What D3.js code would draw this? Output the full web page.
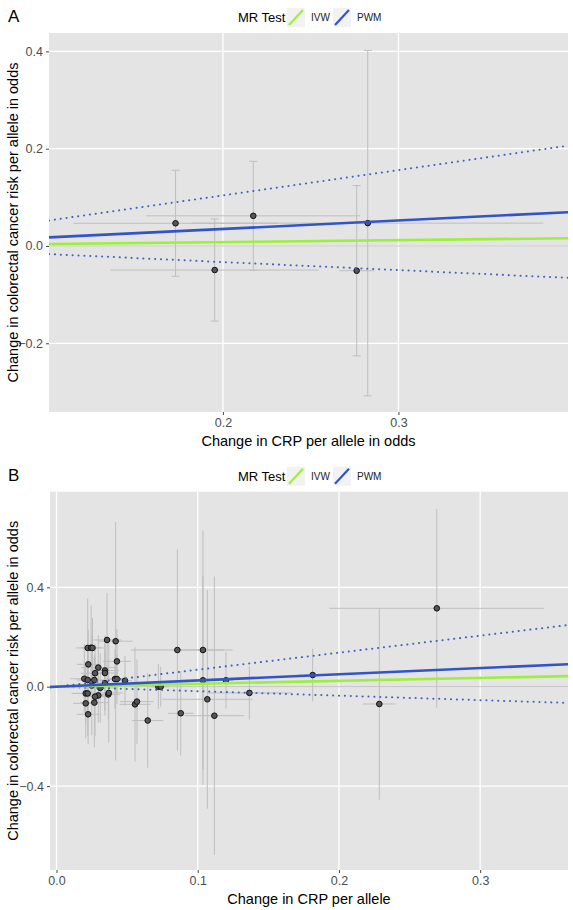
<!DOCTYPE html>
<html><head><meta charset="utf-8">
<script src="https://cdn.jsdelivr.net/npm/d3@7"></script>
<style>body{margin:0;background:#fff;font-family:"Liberation Sans",Arial,sans-serif;}</style>
</head><body><svg id="c" width="573" height="910"></svg>
<script>
// ---------- data ----------
const methods = ["IVW", "PWM"];
const methodColors = ["#9cf03a", "#3354c8"];

// Panel A: CRP per allele in odds
const aBx   = [0.173, 0.1953, 0.2173, 0.2762, 0.2825];
const aBy   = [0.0467, -0.0494, 0.062, -0.0508, 0.047];
const aBxSe = [0.0583, 0.0594, 0.061, 0.010, 0.100];
const aBySe = [0.109, 0.105, 0.112, 0.175, 0.355];
const aSlopes = [0.04, 0.175];      // IVW, PWM
const aCI = [0.52, -0.165];         // PWM CI upper, lower
const aXTicks = [0.2, 0.3];
const aYTicks = [-0.2, 0.0, 0.2, 0.4];

// Panel B: CRP per allele
const bBx = [0.0221,0.0245,0.0255,0.0225,0.0296,0.0343,0.0343,0.0273,0.0197,0.0221,0.0268,0.0414,0.0428,0.0485,0.0343,
             0.0207,0.0221,0.0367,0.0296,0.0273,0.0207,0.0268,0.0224,0.0358,0.0419,0.0428,0.025,0.031,0.037,
             0.0556,0.057,0.0646,0.0721,0.0738,0.0856,0.088,0.1037,0.1037,0.1068,0.1118,0.12,0.1366,0.1814,0.2286,0.2693];
const bBy = [0.156,0.157,0.156,0.090,0.077,0.065,0.055,0.054,0.032,0.027,0.027,0.031,0.031,0.024,0.014,
             -0.027,-0.027,-0.031,-0.035,-0.040,-0.067,-0.064,-0.111,0.188,0.183,0.102,0.005,-0.005,-0.025,
             -0.071,-0.060,-0.136,0.0,0.0,0.1477,-0.107,0.1477,0.0257,-0.0507,-0.1167,0.0257,-0.025,0.047,-0.0696,0.3155];
const bBxSe = [0.008,0.007,0.008,0.008,0.012,0.010,0.009,0.010,0.010,0.008,0.007,0.006,0.006,0.005,0.010,
               0.010,0.008,0.008,0.009,0.008,0.009,0.010,0.008,0.010,0.012,0.010,0.008,0.012,0.010,
               0.011,0.012,0.011,0.006,0.006,0.033,0.009,0.021,0.015,0.032,0.021,0.005,0.030,0.010,0.0115,0.076];
const bBySe = [0.20,0.17,0.12,0.14,0.13,0.11,0.15,0.12,0.14,0.16,0.10,0.12,0.10,0.10,0.13,
               0.12,0.17,0.10,0.11,0.16,0.14,0.18,0.12,0.19,0.48,0.13,0.20,0.14,0.20,
               0.23,0.17,0.19,0.09,0.08,0.405,0.17,0.48,0.42,0.44,0.56,0.114,0.107,0.106,0.385,0.40];
const bSlopes = [0.118, 0.25];
const bCI = [0.685, -0.18];
const bXTicks = [0.0, 0.1, 0.2, 0.3];
const bYTicks = [-0.4, 0.0, 0.4];

const yTitle = "Change in colorectal cancer risk per allele in odds";

// ---------- drawing ----------
const svg = d3.select("#c");
const fmt = d3.format(".1f");

function panel(o) {
  const {left, right, top, bottom, xDom, yDom, bx, by, bxse, byse, slopes, ci, xTicks, yTicks, label, xTitle, caps} = o;
  const x = d3.scaleLinear().domain(xDom).range([left, right]);
  const y = d3.scaleLinear().domain(yDom).range([bottom, top]);
  const g = svg.append("g");

  // label
  g.append("text").attr("x", 8).attr("y", top - 11).attr("font-size", 17).attr("fill", "#000").text(label);

  // legend
  const ly = top - 16;
  const lg = g.append("g");
  lg.append("text").attr("x", 238).attr("y", ly + 5).attr("font-size", 13).attr("fill", "#000").text("MR Test");
  const keyX = [287, 333];
  const textX = [311, 357];
  methods.forEach((m, i) => {
    lg.append("rect").attr("x", keyX[i]).attr("y", ly - 9).attr("width", 18).attr("height", 19).attr("fill", "#f2f2f2");
    lg.append("line").attr("x1", keyX[i] + 2).attr("y1", ly + 8).attr("x2", keyX[i] + 16).attr("y2", ly - 7)
      .attr("stroke", methodColors[i]).attr("stroke-width", 2.2);
    lg.append("text").attr("x", textX[i]).attr("y", ly + 4).attr("font-size", 10).attr("fill", "#222").text(m);
  });

  // panel background
  g.append("rect").attr("x", left).attr("y", top).attr("width", right - left).attr("height", bottom - top).attr("fill", "#e4e4e4");

  // grid
  g.selectAll(".gx").data(xTicks).join("line")
    .attr("x1", d => x(d)).attr("x2", d => x(d)).attr("y1", top).attr("y2", bottom)
    .attr("stroke", "#fff").attr("stroke-width", 1.3);
  g.selectAll(".gy").data(yTicks).join("line")
    .attr("x1", left).attr("x2", right).attr("y1", d => y(d)).attr("y2", d => y(d))
    .attr("stroke", "#fff").attr("stroke-width", 1.3);

  // axes
  const xAxis = d3.axisBottom(x).tickValues(xTicks).tickFormat(fmt).tickSize(3).tickPadding(3);
  const ax = g.append("g").attr("transform", `translate(0,${bottom})`).call(xAxis);
  const yAxis = d3.axisLeft(y).tickValues(yTicks).tickFormat(fmt).tickSize(3).tickPadding(3);
  const ay = g.append("g").attr("transform", `translate(${left},0)`).call(yAxis);
  [ax, ay].forEach(a => {
    a.select(".domain").remove();
    a.selectAll(".tick line").attr("stroke", "#444");
    a.selectAll(".tick text").attr("fill", "#4d4d4d").attr("font-size", 12.5)
      .attr("font-family", "Liberation Sans, Arial, sans-serif");
  });

  // titles
  g.append("text").attr("x", (left + right) / 2).attr("y", bottom + 34).attr("text-anchor", "middle")
    .attr("font-size", 14.5).attr("fill", "#000").text(xTitle);
  g.append("text").attr("transform", `translate(18,${(top + bottom) / 2}) rotate(-90)`)
    .attr("text-anchor", "middle").attr("font-size", 14.5).attr("fill", "#000").text(yTitle);

  const clip = "clip" + label;
  g.append("clipPath").attr("id", clip).append("rect")
    .attr("x", left).attr("y", top).attr("width", right - left).attr("height", bottom - top);
  const p = g.append("g").attr("clip-path", `url(#${clip})`);

  // zero reference line
  p.append("line").attr("x1", left).attr("x2", right).attr("y1", y(0)).attr("y2", y(0))
    .attr("stroke", "#bdbdbd").attr("stroke-width", 1);

  const idx = d3.range(bx.length);
  // horizontal error bars
  p.selectAll(".eh").data(idx).join("line")
    .attr("x1", i => x(bx[i] - bxse[i])).attr("x2", i => x(bx[i] + bxse[i]))
    .attr("y1", i => y(by[i])).attr("y2", i => y(by[i]))
    .attr("stroke", "#bebebe").attr("stroke-width", 1);
  // vertical error bars
  p.selectAll(".ev").data(idx).join("line")
    .attr("x1", i => x(bx[i])).attr("x2", i => x(bx[i]))
    .attr("y1", i => y(by[i] - byse[i])).attr("y2", i => y(by[i] + byse[i]))
    .attr("stroke", "#bebebe").attr("stroke-width", 1);
  if (caps) {
    idx.forEach(i => {
      [by[i] - byse[i], by[i] + byse[i]].forEach(v => {
        p.append("line").attr("x1", x(bx[i]) - 4).attr("x2", x(bx[i]) + 4)
          .attr("y1", y(v)).attr("y2", y(v)).attr("stroke", "#bebebe").attr("stroke-width", 1);
      });
    });
  }
  // points
  p.selectAll(".pt").data(idx).join("circle")
    .attr("cx", i => x(bx[i])).attr("cy", i => y(by[i])).attr("r", 2.8)
    .attr("fill", "#555").attr("stroke", "#111").attr("stroke-width", 1);

  // CI dotted lines
  ci.forEach(s => {
    p.append("line").attr("x1", x(xDom[0])).attr("y1", y(s * xDom[0])).attr("x2", x(xDom[1])).attr("y2", y(s * xDom[1]))
      .attr("stroke", "#4160c0").attr("stroke-width", 2).attr("stroke-dasharray", "0.1,5.8").attr("stroke-linecap", "round");
  });
  // method lines
  slopes.forEach((s, i) => {
    p.append("line").attr("x1", x(xDom[0])).attr("y1", y(s * xDom[0])).attr("x2", x(xDom[1])).attr("y2", y(s * xDom[1]))
      .attr("stroke", methodColors[i]).attr("stroke-width", 2.6);
  });
}

panel({left: 49, right: 568, top: 33, bottom: 412,
  xDom: [0.1009, 0.3966], yDom: [-0.3412, 0.4378],
  bx: aBx, by: aBy, bxse: aBxSe, byse: aBySe, slopes: aSlopes, ci: aCI,
  xTicks: aXTicks, yTicks: aYTicks, label: "A", xTitle: "Change in CRP per allele in odds", caps: true});

panel({left: 50, right: 568, top: 491.7, bottom: 870,
  xDom: [-0.0046, 0.3622], yDom: [-0.7376, 0.7847],
  bx: bBx, by: bBy, bxse: bBxSe, byse: bBySe, slopes: bSlopes, ci: bCI,
  xTicks: bXTicks, yTicks: bYTicks, label: "B", xTitle: "Change in CRP per allele", caps: false});
</script></body></html>
